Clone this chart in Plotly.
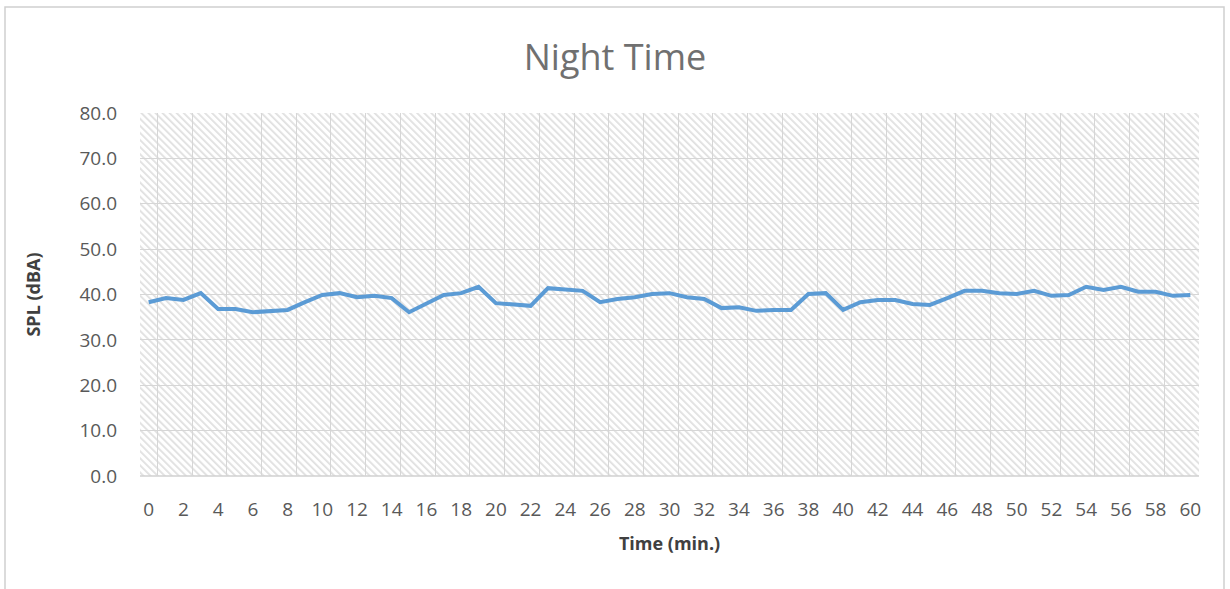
import base64
import plotly.graph_objects as go

# Sound pressure level, one reading per minute
minutes = list(range(0, 61))
spl_dba = [
    38.3, 39.2, 38.8, 40.3, 36.8, 36.8, 36.1, 36.4, 36.6, 38.3,
    39.9, 40.3, 39.4, 39.7, 39.2, 36.1, 37.9, 39.9, 40.3, 41.7,
    38.1, 37.7, 37.5, 41.4, 41.2, 40.8, 38.3, 39.0, 39.4, 40.1,
    40.3, 39.4, 39.0, 37.0, 37.2, 36.4, 36.6, 36.6, 40.1, 40.3,
    36.6, 38.3, 38.8, 38.8, 37.9, 37.7, 39.2, 40.8, 40.8, 40.3,
    40.1, 40.8, 39.7, 39.9, 41.7, 41.0, 41.7, 40.6, 40.6, 39.7,
    39.9,
]
x_ticks = list(range(0, 61, 2))
y_ticks = [0, 10, 20, 30, 40, 50, 60, 70, 80]

W, H = 1230, 589
M = dict(l=140, r=31, t=113, b=113)
pw, ph = W - M["l"] - M["r"], H - M["t"] - M["b"]

# Diagonal hatch drawn as an SVG tile behind the grid
hatch_svg = f"""<svg xmlns="http://www.w3.org/2000/svg" width="{pw}" height="{ph}" viewBox="0 0 {pw} {ph}" preserveAspectRatio="none">
<defs><pattern id="h" width="5" height="5" patternUnits="userSpaceOnUse" patternTransform="rotate(-45)">
<rect x="0" y="0" width="5" height="5" fill="#ffffff"/>
<rect x="0" y="0" width="1.8" height="5" fill="#e0e0e0"/>
</pattern></defs>
<rect x="0" y="0" width="{pw}" height="{ph}" fill="url(#h)"/>
</svg>"""
hatch_uri = "data:image/svg+xml;base64," + base64.b64encode(hatch_svg.encode()).decode()

fig = go.Figure()
fig.add_trace(go.Scatter(
    x=minutes, y=spl_dba, mode="lines",
    line=dict(color="#5b9bd5", width=4),
    showlegend=False,
))

axis_font = dict(family="Open Sans", size=19, color="#595959")
title_font = dict(family="Open Sans", size=18, color="#404040")
grid = "#d6d6d6"

fig.update_layout(
    width=W, height=H,
    margin=M,
    paper_bgcolor="#ffffff",
    plot_bgcolor="#ffffff",
    title=dict(text="Night Time", x=0.5, xanchor="center", y=0.903, yanchor="middle",
               font=dict(family="Open Sans", size=36, color="#707070")),
    xaxis=dict(
        range=[-0.5, 60.5], tickmode="array", tickvals=x_ticks,
        ticktext=[str(v) for v in x_ticks], tickfont=axis_font,
        showgrid=False, zeroline=False, showline=False, ticks="",
        ticklabelstandoff=20,
        minor=dict(tick0=0.5, dtick=2, showgrid=True, gridcolor=grid, gridwidth=1, ticks=""),
        title=dict(text="<b>Time (min.)</b>", font=title_font, standoff=16),
    ),
    yaxis=dict(
        range=[0, 80], tickmode="array", tickvals=y_ticks,
        ticktext=[f"{v:.1f}" for v in y_ticks], tickfont=axis_font,
        showgrid=True, gridcolor=grid, gridwidth=1,
        zeroline=False, showline=False, ticks="", ticklabelstandoff=22,
        title=dict(text="<b>SPL (dBA)</b>", font=title_font, standoff=34),
    ),
    images=[dict(source=hatch_uri, xref="paper", yref="paper", x=0, y=1,
                 sizex=1, sizey=1, sizing="stretch", xanchor="left", yanchor="top",
                 layer="below")],
    shapes=[
        dict(type="line", xref="paper", yref="paper", x0=0, x1=1, y0=0, y1=0,
             line=dict(color="#d0d0d0", width=1.5), layer="below"),
        dict(type="rect", xref="paper", yref="paper",
             x0=-(M["l"] - 5) / pw, x1=1 + (M["r"] - 6) / pw,
             y0=-(M["b"] + 20) / ph, y1=1 + (M["t"] - 7) / ph,
             line=dict(color="#d0d0d0", width=1.5), fillcolor="rgba(0,0,0,0)"),
    ],
)

fig.write_html("out.html")
